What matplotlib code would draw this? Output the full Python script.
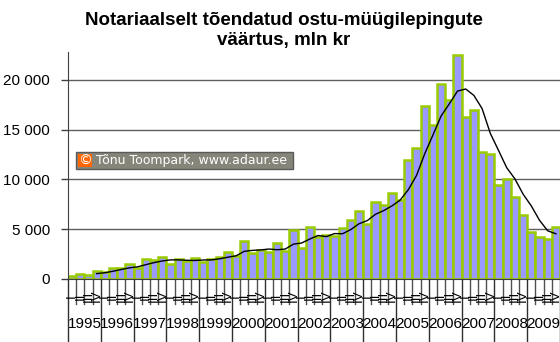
import matplotlib
matplotlib.use("Agg")
import matplotlib.pyplot as plt
import matplotlib.transforms as mtransforms
from matplotlib.patches import Rectangle

plt.rcParams["font.family"] = ["Liberation Sans", "DejaVu Sans"]

# Quarterly values, mln kr (1995 Q1 .. 2009 Q4)
years = list(range(1995, 2010))
quarters = ["I", "II", "III", "IV"]
values = [
    340, 540, 440, 840,
    700, 1140, 1140, 1510,
    1110, 2010, 1950, 2180,
    1540, 2010, 1780, 2110,
    1750, 2050, 2210, 2750,
    2310, 3860, 2580, 2920,
    2680, 3590, 2850, 4900,
    3120, 5210, 4260, 4430,
    4330, 5170, 5940, 6780,
    5570, 7720, 7420, 8660,
    7890, 11910, 13120, 17350,
    15440, 19560, 18020, 22480,
    16280, 16980, 12720, 12550,
    9430, 10030, 8220, 6410,
    4700, 4260, 3990, 5200,
]
# 4-quarter moving average trend, starts at 1995 Q4
trend = [
    540, 630, 780, 955, 1120, 1225, 1440, 1645, 1810, 1920,
    1920, 1880, 1860, 1910, 1920, 2030, 2190, 2330, 2780, 2875,
    2920, 3010, 2940, 3010, 3505, 3615, 4020, 4370, 4255, 4560,
    4550, 4970, 5555, 5865, 6500, 6870, 7340, 7920, 8970, 10395,
    12570, 14455, 16370, 17590, 18875, 19085, 18440, 17115, 14630, 12920,
    11180, 10060, 8520, 7340, 5900, 4840, 4540,
]
yticks = [0, 5000, 10000, 15000, 20000]

W, H = 560, 342
fig = plt.figure(figsize=(W / 100, H / 100), dpi=100)
ax = fig.add_axes([68 / W, (H - 279) / H, 1 - 68 / W, 227 / H])

x = list(range(len(values)))
ax.bar(x, values, width=1.0, color="#9999FF", edgecolor="#99CC00", linewidth=1.8, zorder=2)
ax.plot(x[3:], trend, color="black", lw=1.0, zorder=3)

ax.set_xlim(-0.5, len(values) - 0.5)
ax.set_ylim(0, 22800)
ax.set_yticks(yticks)
ax.set_yticklabels([f"{v:,}".replace(",", " ") for v in yticks], fontsize=11)
ax.tick_params(axis="y", direction="out", length=5, width=1, color="#404040", pad=8)
ax.set_xticks([])
ax.yaxis.grid(True, color="#5f5f5f", lw=1)
ax.set_axisbelow(True)
for s in ["top", "right"]:
    ax.spines[s].set_visible(False)
ax.spines["left"].set_color("#404040")
ax.spines["bottom"].set_color("#404040")

# category axis: quarter ticks, rotated quarter labels, year separators
tr = mtransforms.blended_transform_factory(ax.transData, ax.transAxes)
px = 1 / 227
for i in range(len(values) + 1):
    xb = i - 0.5
    if i % 4 == 0:
        ax.plot([xb, xb], [0, -63 * px], color="#303030", lw=1, transform=tr, clip_on=False)
    else:
        ax.plot([xb, xb], [0, -25 * px], color="#505050", lw=1, transform=tr, clip_on=False)
for i in range(len(values)):
    ax.text(i, -17 * px, quarters[i % 4], rotation=90, ha="center", va="center",
            fontsize=9.5, transform=tr, clip_on=False)
for k, yr in enumerate(years):
    ax.text(4 * k + 1.5, -45 * px, str(yr), ha="center", va="center",
            fontsize=11, transform=tr, clip_on=False)

fig.text(0.507, 1 - 12 / H, "Notariaalselt tõendatud ostu-müügilepingute\nväärtus, mln kr",
         ha="center", va="top", fontsize=13.5, fontweight="bold", linespacing=1.25)

# copyright stamp
fig.patches.append(Rectangle((76 / W, (H - 169) / H), 217 / W, 17 / H, transform=fig.transFigure,
                             facecolor="#85857a", edgecolor="#5a5a5a", lw=1, zorder=5))
fig.patches.append(Rectangle((78 / W, (H - 167) / H), 14 / W, 13 / H, transform=fig.transFigure,
                             facecolor="#FF6600", edgecolor="none", zorder=6))
fig.text(85 / W, (H - 160.5) / H, "©", color="white", fontsize=10, ha="center", va="center",
         family="DejaVu Sans", zorder=7)
fig.text(96 / W, (H - 160.5) / H, "Tõnu Toompark, www.adaur.ee", color="white", fontsize=9,
         ha="left", va="center", family="DejaVu Sans", zorder=7)

fig.savefig("out.png", dpi=100)
